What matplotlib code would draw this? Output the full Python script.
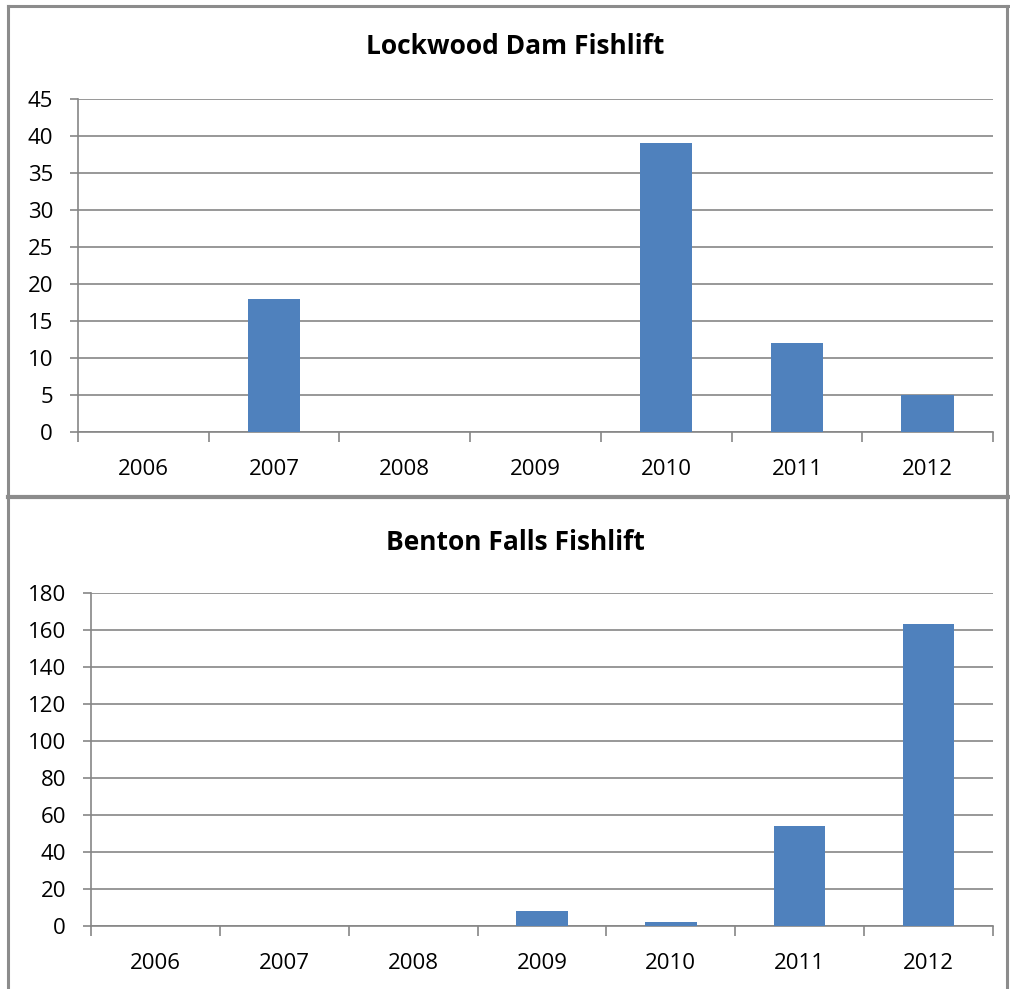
import matplotlib
matplotlib.use("Agg")
import matplotlib.pyplot as plt
from matplotlib.lines import Line2D
import numpy as np

years = ["2006", "2007", "2008", "2009", "2010", "2011", "2012"]
lockwood = [0, 18, 0, 0, 39, 12, 5]
benton = [0, 0, 0, 8, 2, 54, 163]

plt.rcParams['font.family'] = ['Open Sans', 'DejaVu Sans']

W, H = 1010, 989
fig = plt.figure(figsize=(W / 100, H / 100), dpi=100)

bar_color = "#4F81BD"
grid_color = "#868686"

def fx(px):
    return px / W

def fy(py):
    return 1 - py / H

panels = [
    dict(title="Lockwood Dam Fishlift", vals=lockwood, left=78, right=993, top=99, bottom=432,
         ymax=45, step=5, title_y=47),
    dict(title="Benton Falls Fishlift", vals=benton, left=91, right=993, top=593, bottom=926,
         ymax=180, step=20, title_y=542),
]

for p in panels:
    ax = fig.add_axes([fx(p["left"]), fy(p["bottom"]), fx(p["right"] - p["left"]),
                       (p["bottom"] - p["top"]) / H])
    x = np.arange(len(years))
    ax.bar(x, p["vals"], width=0.4, color=bar_color, zorder=3)
    ax.set_xlim(-0.5, len(years) - 0.5)
    ax.set_ylim(0, p["ymax"])
    yt = np.arange(0, p["ymax"] + 1, p["step"])
    ax.set_yticks(yt)
    ax.set_yticklabels([str(v) for v in yt])
    ax.yaxis.grid(True, color=grid_color, linewidth=1.2, zorder=0)
    ax.set_xticks(np.arange(-0.5, len(years), 1.0))
    ax.set_xticklabels([])
    ax.set_xticks(x, minor=True)
    ax.set_xticklabels(years, minor=True)
    ax.tick_params(axis='x', which='major', length=7, width=1.2, color=grid_color, direction='out')
    ax.tick_params(axis='x', which='minor', length=0, pad=19.5, labelsize=16)
    ax.tick_params(axis='y', length=6, width=1.2, color=grid_color, direction='out', pad=12,
                   labelsize=16)
    for s in ["top", "right"]:
        ax.spines[s].set_visible(False)
    for s in ["left", "bottom"]:
        ax.spines[s].set_color(grid_color)
        ax.spines[s].set_linewidth(1.2)
    fig.text(fx(515), fy(p["title_y"]), p["title"], ha="center", va="center",
             fontsize=19, fontweight="bold")

# panel borders
border = "#8C8C8C"
fig.add_artist(Line2D([fx(8), fx(8)], [fy(989), fy(6)], color=border, linewidth=2.2))
fig.add_artist(Line2D([fx(8), fx(1010)], [fy(6), fy(6)], color=border, linewidth=2.2))
fig.add_artist(Line2D([fx(1007), fx(1007)], [fy(6), fy(989)], color=border, linewidth=2.2))
fig.add_artist(Line2D([fx(8), fx(1010)], [fy(497), fy(497)], color=border, linewidth=3.0))

fig.savefig("out.png", dpi=100)
